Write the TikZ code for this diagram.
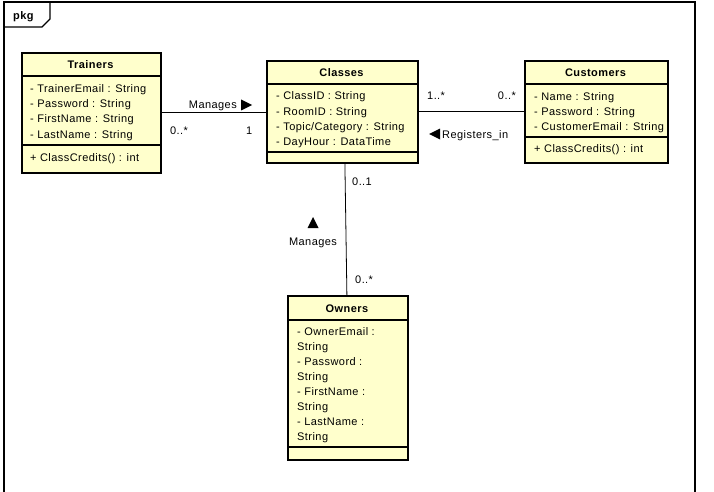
\documentclass[tikz,border=0pt]{standalone}
\usepackage{fontspec}
\setmainfont[LetterSpace=4]{Liberation Sans}
\definecolor{clsfill}{RGB}{255,255,204}
\begin{document}
\begin{tikzpicture}[x=1pt,y=-1pt,
  cls/.style={draw, line width=1.8pt, fill=clsfill, inner sep=0pt, anchor=north west},
  sepline/.style={line width=1.2pt},
  txt/.style={inner sep=0pt, anchor=west, text height=8pt, text depth=0pt, font=\fontsize{11}{13}\selectfont},
  ttl/.style={inner sep=0pt, text height=8pt, text depth=0pt, font=\bfseries\fontsize{11}{13}\selectfont},
  conn/.style={line width=0.8pt},
  frame/.style={line width=1.2pt}]
\useasboundingbox (0,0) rectangle (714,492);
% package frame
\draw[frame] (4,492) -- (4,2) -- (695,2) -- (695,492);
\draw[frame] (4,27) -- (42,27) -- (50,19) -- (50,2);
\node[ttl, anchor=west] (pkg) at (13,16) {pkg};
% Trainers
\node[cls, minimum width=139pt, minimum height=120pt] (trainers) at (21,52) {};
\draw[sepline] (21,76) -- (160,76);
\draw[sepline] (21,145) -- (160,145);
\node[ttl] (trainersT) at (90.5,65) {Trainers};
\node[txt] (t1) at (30,89) {- TrainerEmail : String};
\node[txt] (t2) at (30,104) {- Password : String};
\node[txt] (t3) at (30,119) {- FirstName : String};
\node[txt] (t4) at (30,134.5) {- LastName : String};
\node[txt] (t5) at (30,157.5) {+ ClassCredits() : int};
% Classes
\node[cls, minimum width=151pt, minimum height=102pt] (classes) at (266,60) {};
\draw[sepline] (266,84) -- (417,84);
\draw[sepline] (266,152) -- (417,152);
\node[ttl] (classesT) at (341.5,73) {Classes};
\node[txt] (c1) at (276,96) {- ClassID : String};
\node[txt] (c2) at (276,111) {- RoomID : String};
\node[txt] (c3) at (276,126.5) {- Topic/Category : String};
\node[txt] (c4) at (276,141.5) {- DayHour : DataTime};
% Customers
\node[cls, minimum width=143pt, minimum height=102pt] (customers) at (524,60) {};
\draw[sepline] (524,84) -- (667,84);
\draw[sepline] (524,137) -- (667,137);
\node[ttl] (customersT) at (595.5,73) {Customers};
\node[txt] (u1) at (534,96.5) {- Name : String};
\node[txt] (u2) at (534,111.5) {- Password : String};
\node[txt] (u3) at (534,127) {- CustomerEmail : String};
\node[txt] (u4) at (534,148.5) {+ ClassCredits() : int};
% Owners
\node[cls, minimum width=120pt, minimum height=164pt] (owners) at (287,295) {};
\draw[sepline] (287,320) -- (407,320);
\draw[sepline] (287,447) -- (407,447);
\node[ttl] (ownersT) at (347,308) {Owners};
\node[txt] (o1) at (297,331) {- OwnerEmail :};
\node[txt] (o2) at (297,346.5) {String};
\node[txt] (o3) at (297,361.5) {- Password :};
\node[txt] (o4) at (297,376.5) {String};
\node[txt] (o5) at (297,391.5) {- FirstName :};
\node[txt] (o6) at (297,406.5) {String};
\node[txt] (o7) at (297,421.5) {- LastName :};
\node[txt] (o8) at (297,436.5) {String};
% Connectors
\draw[conn] (trainers.east) -- (trainers.east -| classes.west);
\draw[conn] (classes.east |- customers.west) -- (customers.west);
\draw[conn] ([xshift=2.5pt]classes.south) -- ([xshift=-1pt]owners.north);
% Labels: Trainers - Classes
\node[txt, anchor=east] (m1) at (237,105) {Manages};
\fill (241,99.5) -- (252,105) -- (241,110.5) -- cycle;
\node[txt] (m1a) at (170,131) {0..*};
\node[txt] (m1b) at (246,131) {1};
% Classes - Customers
\node[txt] (r1a) at (427,96) {1..*};
\node[txt, anchor=east] (r1b) at (516,96) {0..*};
\fill (440,128.5) -- (429,134) -- (440,139.5) -- cycle;
\node[txt] (r1) at (442,134.5) {Registers\_in};
% Classes - Owners
\node[txt] (m2a) at (352,181) {0..1};
\fill (307.5,228) -- (313,217) -- (318.5,228) -- cycle;
\node[txt, anchor=center] (m2) at (313,241) {Manages};
\node[txt] (m2b) at (355,279.5) {0..*};
\end{tikzpicture}
\end{document}
